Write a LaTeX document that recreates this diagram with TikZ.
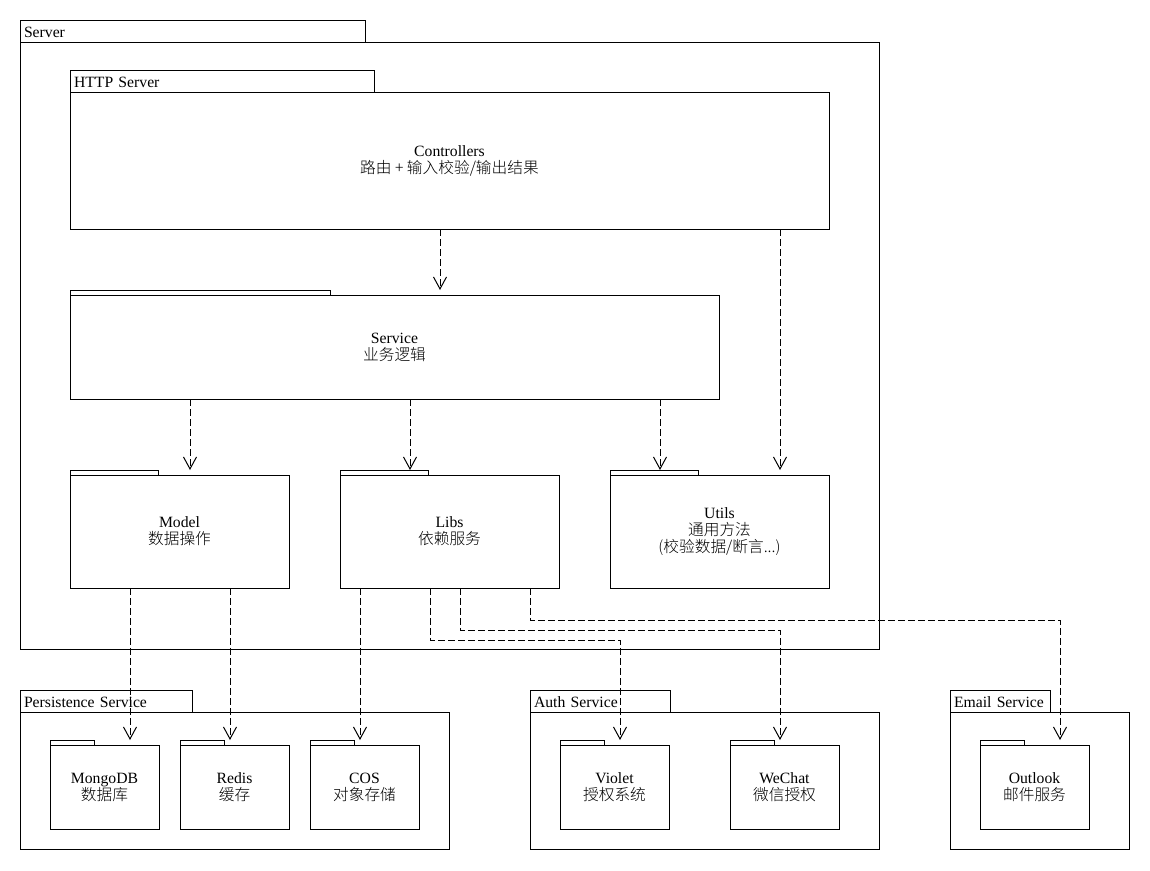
\documentclass[tikz,border=0pt]{standalone}
\usepackage{fontspec}
\setmainfont{Liberation Serif}
\newfontfamily\cjk{Noto Sans CJK SC Light}
\usetikzlibrary{positioning, arrows.meta}

\begin{document}
\begin{tikzpicture}[
    x=1pt, y=-1pt,
    line width=1pt,
    font=\fontsize{15.7}{17}\selectfont,
    pkg/.style={draw, rectangle, inner sep=0pt, outer sep=0pt, align=center, execute at begin node={\rule{0pt}{15pt}}},
    tab/.style={draw, rectangle, inner sep=0pt, outer sep=0pt, minimum height=5pt, anchor=south west},
    nametab/.style={draw, rectangle, inner xsep=4pt, inner ysep=0pt, outer sep=0pt, minimum height=22pt, text height=12.5pt, text depth=0pt, anchor=south west, align=left},
    dep/.style={dash pattern=on 6.5pt off 3.5pt, -{Straight Barb[length=12pt, width=13pt]}}
]
    \fill[white] (0,0) rectangle (1150,870);
    \useasboundingbox (0,0) rectangle (1150,870);

    % ================= SERVER =================
    \node[pkg, minimum width=859pt, minimum height=607pt] (server) at (449.5,345.5) {};
    \node[nametab, text width=337pt] (servertab) at (server.north west) {Server};

    \node[pkg, minimum width=759pt, minimum height=137pt] (http) at (449.5,160.5) {Controllers\\{\cjk 路由 + 输入校验/输出结果}};
    \node[nametab, text width=296pt] (httptab) at (http.north west) {HTTP Server};

    \node[pkg, minimum width=649pt, minimum height=104pt] (service) at (394.5,347) {Service\\{\cjk 业务逻辑}};
    \node[tab, minimum width=260pt] (servicetab) at (service.north west) {};

    \node[pkg, minimum width=219pt, minimum height=113pt] (model) at (179.5,531.5) {Model\\{\cjk 数据操作}};
    \node[tab, minimum width=88pt] (modeltab) at (model.north west) {};

    \node[pkg, minimum width=219pt, minimum height=113pt] (libs) at (449.5,531.5) {Libs\\{\cjk 依赖服务}};
    \node[tab, minimum width=88pt] (libstab) at (libs.north west) {};

    \node[pkg, minimum width=219pt, minimum height=113pt] (utils) at (719.5,531.5) {Utils\\{\cjk 通用方法}\\{\cjk (校验数据/断言...)}};
    \node[tab, minimum width=88pt] (utilstab) at (utils.north west) {};

    % ================= PERSISTENCE =================
    \node[pkg, minimum width=429pt, minimum height=137pt] (persist) at (234.5,780.5) {};
    \node[nametab, text width=164pt] (persisttab) at (persist.north west) {Persistence Service};

    \node[pkg, minimum width=109pt, minimum height=84pt] (mongo) at (104.5,787) {MongoDB\\{\cjk 数据库}};
    \node[tab, minimum width=44pt] (mongotab) at (mongo.north west) {};

    \node[pkg, minimum width=109pt, minimum height=84pt] (redis) at (234.5,787) {Redis\\{\cjk 缓存}};
    \node[tab, minimum width=44pt] (redistab) at (redis.north west) {};

    \node[pkg, minimum width=109pt, minimum height=84pt] (cos) at (364.5,787) {COS\\{\cjk 对象存储}};
    \node[tab, minimum width=44pt] (costab) at (cos.north west) {};

    % ================= AUTH =================
    \node[pkg, minimum width=349pt, minimum height=137pt] (auth) at (704.5,780.5) {};
    \node[nametab, text width=132pt] (authtab) at (auth.north west) {Auth Service};

    \node[pkg, minimum width=109pt, minimum height=84pt] (violet) at (614.5,787) {Violet\\{\cjk 授权系统}};
    \node[tab, minimum width=44pt] (violettab) at (violet.north west) {};

    \node[pkg, minimum width=109pt, minimum height=84pt] (wechat) at (784.5,787) {WeChat\\{\cjk 微信授权}};
    \node[tab, minimum width=44pt] (wechattab) at (wechat.north west) {};

    % ================= EMAIL =================
    \node[pkg, minimum width=179pt, minimum height=137pt] (email) at (1039.5,780.5) {};
    \node[nametab, text width=92pt] (emailtab) at (email.north west) {Email Service};

    \node[pkg, minimum width=109pt, minimum height=84pt] (outlook) at (1034.5,787) {Outlook\\{\cjk 邮件服务}};
    \node[tab, minimum width=44pt] (outlooktab) at (outlook.north west) {};

    % Dependencies inside the server
    \draw[dep] (http.south -| 440,0) -- (servicetab.north -| 440,0);
    \draw[dep] (http.south -| 780,0) -- (utilstab.north -| 780,0);
    \draw[dep] (service.south -| 190,0) -- (modeltab.north -| 190,0);
    \draw[dep] (service.south -| 410,0) -- (libstab.north -| 410,0);
    \draw[dep] (service.south -| 660,0) -- (utilstab.north -| 660,0);

    % Dependencies on outside services
    \draw[dep] (model.south -| 130,0) -- (mongotab.north -| 130,0);
    \draw[dep] (model.south -| 230,0) -- (redistab.north -| 230,0);
    \draw[dep] (libs.south -| 360,0) -- (costab.north -| 360,0);
    \draw[dep] (libs.south -| 430,0) |- (620,640) -- (violettab.north -| 620,0);
    \draw[dep] (libs.south -| 460,0) |- (780,630) -- (wechattab.north -| 780,0);
    \draw[dep] (libs.south -| 530,0) |- (1060,620) -- (outlooktab.north -| 1060,0);

\end{tikzpicture}
\end{document}
